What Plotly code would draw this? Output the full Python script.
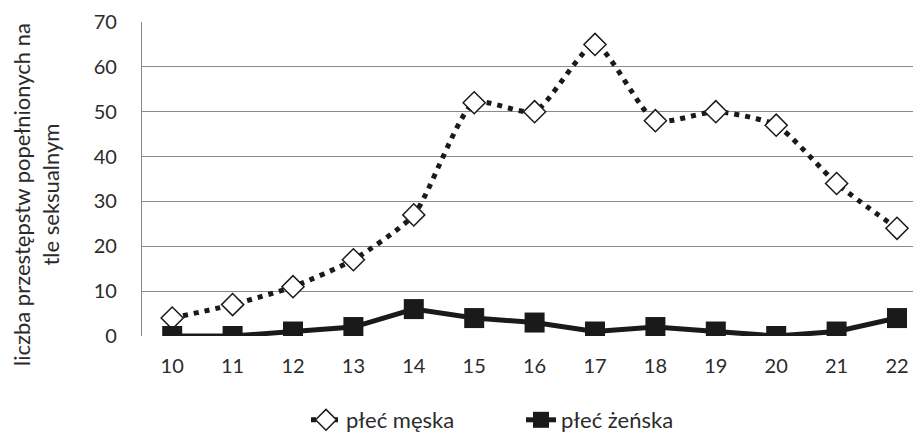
import plotly.graph_objects as go

ages = ["10", "11", "12", "13", "14", "15", "16", "17", "18", "19", "20", "21", "22"]
male = [4, 7, 11, 17, 27, 52, 50, 65, 48, 50, 47, 34, 24]
female = [0, 0, 1, 2, 6, 4, 3, 1, 2, 1, 0, 1, 4]
y_ticks = [0, 10, 20, 30, 40, 50, 60, 70]
y_title = "liczba przestępstw popełnionych na<br>tle seksualnym"

FONT = "Lato, Open Sans, sans-serif"
TEXT = "#2b2b2b"

W, H = 913, 432
L, R, T, B = 142, 0, 22, 96
PW, PH = W - L - R, H - T - B
STEP = 60.4  # px per category

fig = go.Figure()
fig.add_trace(go.Scatter(
    x=ages, y=male, name="płeć męska", mode="lines+markers",
    line=dict(color="#1a1a1a", width=5, dash="5px,6px", shape="spline", smoothing=0.6),
    marker=dict(symbol="diamond", size=17, color="white",
                line=dict(width=1.5, color="#1a1a1a")),
))
fig.add_trace(go.Scatter(
    x=ages, y=female, name="płeć żeńska", mode="lines+markers",
    line=dict(color="#1a1a1a", width=5),
    marker=dict(symbol="square", size=20, color="#1a1a1a"),
))

fig.update_layout(
    width=W, height=H,
    margin=dict(l=L, r=R, t=T, b=B, autoexpand=False),
    paper_bgcolor="white", plot_bgcolor="white",
    font=dict(family=FONT, size=20, color=TEXT),
    showlegend=True,
    legend=dict(orientation="h", x=(306 - L) / PW, xanchor="left",
                y=(PH - (420 - T)) / PH, yanchor="middle",
                font=dict(size=22, color=TEXT), entrywidth=170, entrywidthmode="pixels"),
    xaxis=dict(type="category", range=[-0.5, -0.5 + PW / STEP], showgrid=False,
               showline=False, ticks="", tickfont=dict(size=20), automargin=False,
               ticklabelstandoff=16),
    yaxis=dict(range=[0, 70], tickvals=y_ticks, showgrid=True, gridcolor="#8a8a8a",
               gridwidth=1.25, showline=True, linecolor="#8a8a8a", linewidth=1.25,
               zeroline=False, ticks="", tickfont=dict(size=20), automargin=False,
               ticklabelstandoff=20),
    annotations=[dict(text=y_title, textangle=-90, xref="paper", yref="paper",
                      x=(36.5 - L) / PW, y=(PH - (194.5 - T)) / PH,
                      xanchor="center", yanchor="middle",
                      showarrow=False, font=dict(size=22, color=TEXT))],
)
fig.write_html(
    "out.html",
    config={"displayModeBar": False},
    post_script="document.body.style.margin='0';document.body.style.overflow='hidden';",
)
